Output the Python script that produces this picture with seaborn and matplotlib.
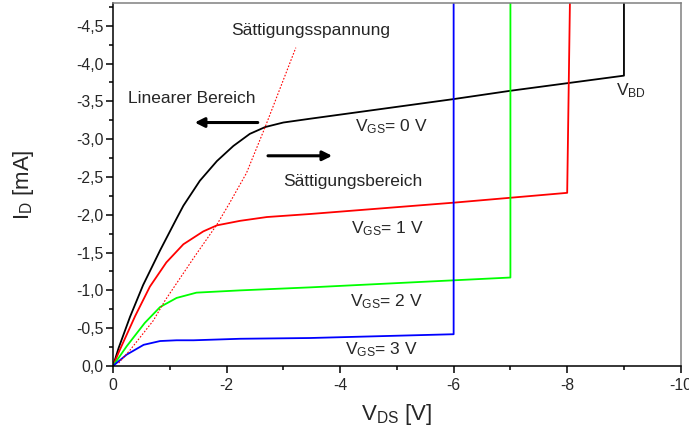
import matplotlib
matplotlib.use("Agg")
import matplotlib.pyplot as plt
import matplotlib.ticker as ticker
import seaborn as sns
import pandas as pd
import numpy as np

# curves (V_DS in V, I_D in mA)
vds_0 = [0, -0.1, -0.3, -0.53, -0.83, -1.12, -1.24, -1.53, -1.83, -2.12, -2.41, -2.68, -3.0, -3.47,
         -6.0, -7.0, -8.0, -9.0, -9.0]
id_0 = [0, -0.24, -0.65, -1.07, -1.53, -1.95, -2.12, -2.45, -2.71, -2.91, -3.07, -3.16, -3.22, -3.27,
        -3.53, -3.64, -3.74, -3.84, -4.9]

vds_1 = [0, -0.1, -0.39, -0.65, -0.94, -1.24, -1.59, -1.83, -2.24, -2.71, -3.47, -6.0, -8.0, -8.05]
id_1 = [0, -0.18, -0.66, -1.05, -1.37, -1.61, -1.78, -1.86, -1.92, -1.97, -2.01, -2.16, -2.29, -4.9]

vds_2 = [0, -0.24, -0.56, -0.83, -1.12, -1.47, -2.24, -3.48, -7.0, -7.0]
id_2 = [0, -0.26, -0.57, -0.78, -0.9, -0.97, -1.0, -1.04, -1.17, -4.9]

vds_3 = [0, -0.24, -0.54, -0.83, -1.12, -1.42, -2.24, -3.47, -6.0, -6.0]
id_3 = [0, -0.15, -0.28, -0.33, -0.34, -0.34, -0.36, -0.37, -0.42, -4.9]

# saturation voltage locus (dotted)
vds_sat = [-0.1, -0.3, -0.71, -0.92, -1.44, -1.83, -2.05, -2.35, -2.68, -3.22]
id_sat = [-0.04, -0.21, -0.6, -0.87, -1.45, -1.87, -2.15, -2.55, -3.16, -4.21]

vgs_labels = ["0 V", "1 V", "2 V", "3 V"]
colors = ["black", "#ff0000", "#00ff00", "#0000ff"]

frames = []
for lab, x, y in zip(vgs_labels, [vds_0, vds_1, vds_2, vds_3], [id_0, id_1, id_2, id_3]):
    frames.append(pd.DataFrame({"vds": x, "id": y, "vgs": lab}))
curves = pd.concat(frames, ignore_index=True)
sat = pd.DataFrame({"vds": vds_sat, "id": id_sat})

sns.set_style("ticks")
plt.rcParams["font.family"] = ["Liberation Sans", "DejaVu Sans"]
plt.rcParams["mathtext.default"] = "regular"

fig = plt.figure(figsize=(6.89, 4.37), dpi=100)
ax = fig.add_axes([0.164, 0.1625, 0.824, 0.8305])

sns.lineplot(data=curves, x="vds", y="id", hue="vgs", units="vgs", estimator=None,
             sort=False, palette=colors, linewidth=1.3, legend=False, ax=ax)
sns.lineplot(data=sat, x="vds", y="id", sort=False, estimator=None, color="#ff0000",
             linestyle=(0, (1.5, 1.5)), linewidth=0.8, ax=ax)

ax.set_xlim(0, -10)
ax.set_ylim(0, -4.8)

ax.xaxis.set_major_locator(ticker.MultipleLocator(2))
ax.xaxis.set_minor_locator(ticker.MultipleLocator(1))
ax.yaxis.set_major_locator(ticker.MultipleLocator(0.5))
ax.yaxis.set_minor_locator(ticker.MultipleLocator(0.25))
ax.xaxis.set_major_formatter(ticker.FuncFormatter(lambda v, p: "0" if v == 0 else "-%d" % abs(v)))
ax.yaxis.set_major_formatter(ticker.FuncFormatter(
    lambda v, p: "0,0" if v == 0 else ("-%.1f" % abs(v)).replace(".", ",")))

ax.tick_params(which="major", direction="out", length=5, width=1.1, labelsize=11.3, color="black")
ax.tick_params(which="minor", direction="out", length=3, width=1.1, color="black")
ax.tick_params(axis="x", pad=4)
ax.tick_params(axis="y", pad=2)

for s in ["left", "bottom"]:
    ax.spines[s].set_color("black")
    ax.spines[s].set_linewidth(1.1)
for s in ["top", "right"]:
    ax.spines[s].set_color("#808080")
    ax.spines[s].set_linewidth(1.1)

ax.set_xlabel("V$_{DS}$ [V]", fontsize=16)
ax.set_ylabel("I$_{D}$ [mA]", fontsize=16)
ax.xaxis.set_label_coords(0.5, -0.1)
ax.yaxis.set_label_coords(-0.135, 0.5)

fs = 12.5
ax.text(-2.09, -4.44, "Sättigungsspannung", fontsize=fs, va="center")
ax.text(-0.27, -3.54, "Linearer Bereich", fontsize=fs, va="center")
ax.text(-2.99, -2.44, "Sättigungsbereich", fontsize=fs, va="center")
ax.text(-4.26, -3.16, "V$_{GS}$= 0 V", fontsize=fs, va="center")
ax.text(-4.2, -1.81, "V$_{GS}$= 1 V", fontsize=fs, va="center")
ax.text(-4.17, -0.85, "V$_{GS}$= 2 V", fontsize=fs, va="center")
ax.text(-4.08, -0.21, "V$_{GS}$= 3 V", fontsize=fs, va="center")
ax.text(-8.86, -3.64, "V$_{BD}$", fontsize=fs, va="center")

arrow = dict(arrowstyle="-|>", color="black", lw=2.2, mutation_scale=14, shrinkA=0, shrinkB=0)
ax.annotate("", xy=(-1.44, -3.22), xytext=(-2.55, -3.22), arrowprops=arrow)
ax.annotate("", xy=(-3.86, -2.78), xytext=(-2.73, -2.78), arrowprops=arrow)

fig.savefig("out.png", dpi=100)
